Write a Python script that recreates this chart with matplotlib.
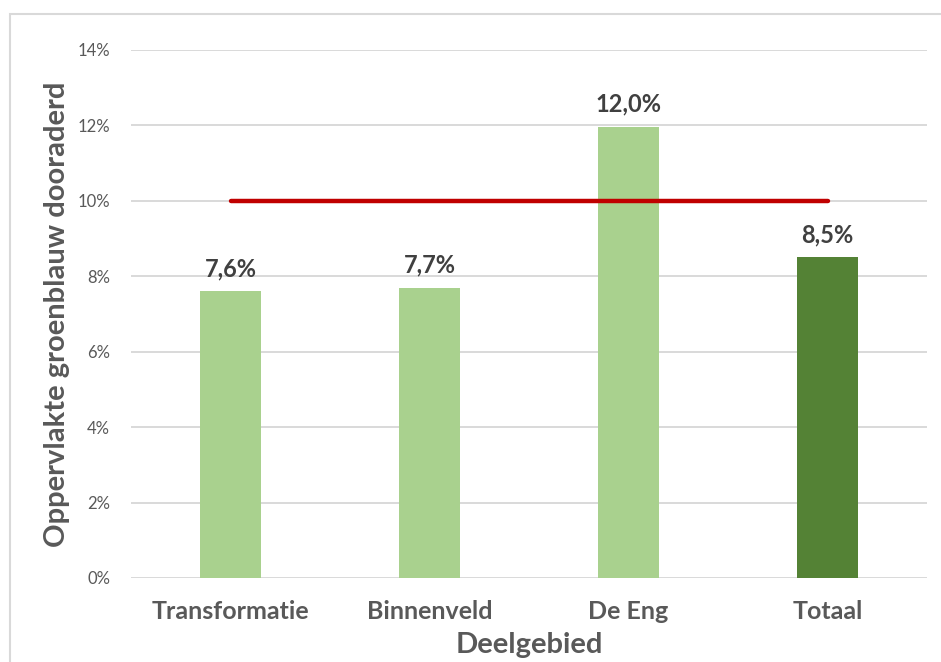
import matplotlib.pyplot as plt
from matplotlib.patches import Rectangle
from matplotlib.ticker import FuncFormatter

# data
categories = ["Transformatie", "Binnenveld", "De Eng", "Totaal"]
values = [0.076, 0.077, 0.1196, 0.085]
bar_colors = ["#A9D18E", "#A9D18E", "#A9D18E", "#548235"]
target = 0.10
yticks = [0, 0.02, 0.04, 0.06, 0.08, 0.10, 0.12, 0.14]

plt.rcParams['font.family'] = ['Lato', 'DejaVu Sans']
grey = "#595959"

fig = plt.figure(figsize=(9.41, 6.62), dpi=100)
ax = fig.add_axes([131 / 941, 1 - 578 / 662, 796 / 941, 528 / 662])

x = list(range(len(categories)))
ax.bar(x, values, width=0.31, color=bar_colors, zorder=3)

# red norm line from first to last category
ax.plot([x[0], x[-1]], [target, target], color="#C00000", lw=3.2,
        solid_capstyle="round", zorder=4)

for xi, v in zip(x, values):
    ax.annotate(f"{v * 100:.1f}%".replace(".", ","), (xi, v),
                xytext=(0, 8), textcoords="offset points",
                ha="center", va="bottom", fontsize=17, fontweight="bold",
                color="#404040")

ax.set_xlim(-0.5, len(categories) - 0.5)
ax.set_ylim(0, 0.14)
ax.set_yticks(yticks)
ax.yaxis.set_major_formatter(FuncFormatter(lambda v, p: f"{v * 100:.0f}%"))
ax.set_xticks(x)
ax.set_xticklabels(categories, fontsize=18, fontweight="bold", color=grey)
ax.tick_params(axis="y", length=0, pad=15, labelsize=12, labelcolor=grey)
ax.tick_params(axis="x", length=0, pad=16)
ax.grid(axis="y", color="#D9D9D9", lw=1.4, zorder=0)
for s in ax.spines.values():
    s.set_visible(False)

ax.set_ylabel("Oppervlakte groenblauw dooraderd", fontsize=21,
              fontweight="bold", color=grey, va="center")
ax.yaxis.set_label_coords(-0.093, 0.5)
ax.set_xlabel("Deelgebied", fontsize=21, fontweight="bold", color=grey,
              va="center")
ax.xaxis.set_label_coords(0.5, -0.127)

# chart frame
fig.patches.append(Rectangle((10 / 941, -0.1), 1.1, 1 - 14 / 662 + 0.1,
                             transform=fig.transFigure, fill=False,
                             edgecolor="#D9D9D9", lw=1.5))

fig.savefig("out.png", dpi=100)
